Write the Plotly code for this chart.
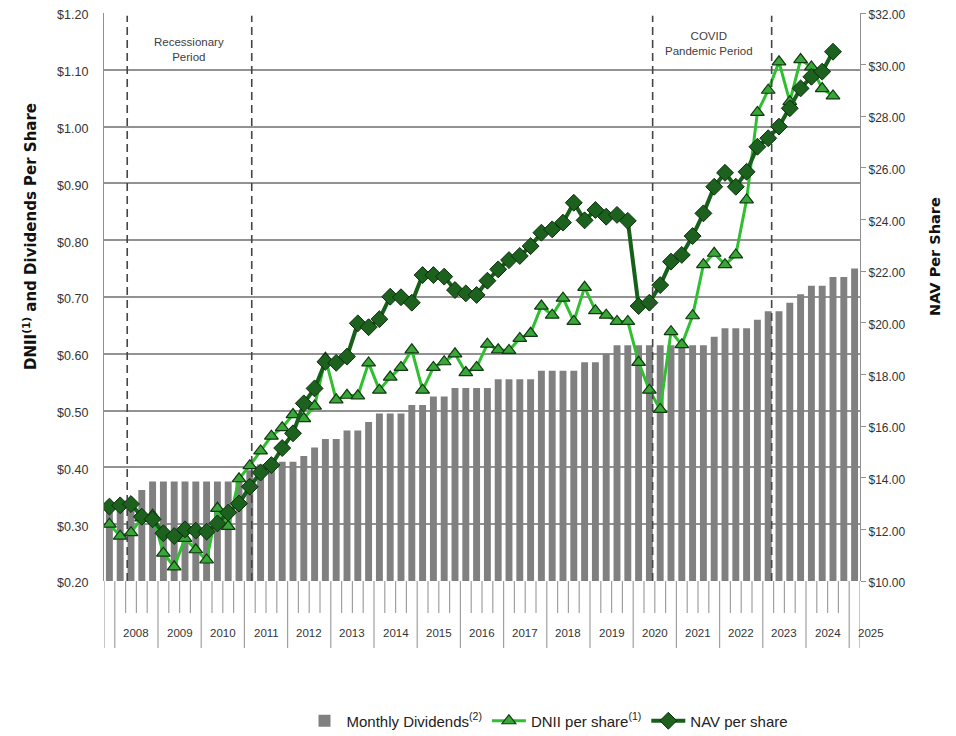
import plotly.graph_objects as go

# ---------------- data ----------------
quarters = ["Q4 2007"] + [f"Q{q} {y}" for y in range(2008, 2025) for q in (1, 2, 3, 4)] + ["Q1 2025"]

dividends = [0.33, 0.34, 0.34, 0.36,
             0.375, 0.375, 0.375, 0.375,
             0.375, 0.375, 0.375, 0.375,
             0.385, 0.395, 0.405, 0.405,
             0.41, 0.41, 0.42, 0.435,
             0.45, 0.45, 0.465, 0.465,
             0.48, 0.495, 0.495, 0.495,
             0.51, 0.51, 0.525, 0.525,
             0.54, 0.54, 0.54, 0.54,
             0.555, 0.555, 0.555, 0.555,
             0.57, 0.57, 0.57, 0.57,
             0.585, 0.585, 0.60, 0.615,
             0.615, 0.615, 0.615, 0.615,
             0.615, 0.615, 0.615, 0.615,
             0.63, 0.645, 0.645, 0.645,
             0.66, 0.675, 0.675, 0.69,
             0.705, 0.72, 0.72, 0.735,
             0.735, 0.75]

dnii = [0.300, 0.279, 0.285, 0.311,
        0.316, 0.249, 0.225, 0.275,
        0.255, 0.237, 0.328, 0.296,
        0.380, 0.403, 0.429, 0.455,
        0.470, 0.493, 0.486, 0.508,
        0.592, 0.519, 0.527, 0.526,
        0.584, 0.536, 0.559, 0.576,
        0.607, 0.536, 0.576, 0.586,
        0.600, 0.567, 0.576, 0.617,
        0.607, 0.606, 0.627, 0.636,
        0.684, 0.668, 0.698, 0.657,
        0.717, 0.676, 0.668, 0.657,
        0.657, 0.585, 0.536, 0.502,
        0.639, 0.616, 0.667, 0.757,
        0.777, 0.757, 0.774, 0.871,
        1.025, 1.064, 1.114, 1.044,
        1.118, 1.105, 1.067, 1.054]

nav = [12.88, 12.93, 12.98, 12.49,
       12.39, 11.85, 11.74, 12.00,
       11.95, 11.91, 12.23, 12.65,
       13.00, 13.65, 14.20, 14.49,
       15.15, 15.72, 16.88, 17.46,
       18.49, 18.45, 18.69, 19.98,
       19.83, 20.14, 21.01, 20.99,
       20.78, 21.85, 21.85, 21.79,
       21.27, 21.14, 21.08, 21.63,
       22.07, 22.43, 22.59, 22.97,
       23.49, 23.62, 23.88, 24.65,
       23.97, 24.37, 24.11, 24.18,
       23.95, 20.65, 20.78, 21.46,
       22.37, 22.63, 23.36, 24.24,
       25.27, 25.81, 25.27, 25.85,
       26.82, 27.15, 27.60, 28.31,
       29.08, 29.53, 29.73, 30.50]

year_labels = [str(y) for y in range(2008, 2026)]
period_labels = ["Recessionary<br>Period", "COVID<br>Pandemic Period"]
period_bounds = [(1.65, 13.18), (50.3, 61.32)]

FONT = "Liberation Sans, Arial, sans-serif"
GRID = "#929292"

# page (screen) geometry: the html body adds an 8px margin
OFF = 8
W, H = 956 - 2 * OFF, 736 - OFF
PLOT_L, PLOT_R, PLOT_T, PLOT_B = 104, 860, 13, 581      # in page pixels
L, T = PLOT_L - OFF, PLOT_T - OFF
R, B = W - (PLOT_R - OFF), H - (PLOT_B - OFF)
PW, PH = W - L - R, H - T - B


def px_x(v):
    return (v - OFF - L) / PW


def px_y(v):
    return (H - B - (v - OFF)) / PH


fig = go.Figure()
fig.add_trace(go.Bar(
    x=quarters, y=dividends, name="Monthly Dividends<sup>(2)</sup>",
    marker=dict(color="#808080", line=dict(width=0)),
))
fig.add_trace(go.Scatter(
    x=quarters[:len(dnii)], y=dnii, name="DNII per share<sup>(1)</sup>", mode="lines+markers",
    line=dict(color="#2fbf2f", width=3),
    marker=dict(symbol="triangle-up", size=12, color="#3aa63a", line=dict(color="#0f3a0f", width=1.2)),
))
fig.add_trace(go.Scatter(
    x=quarters[:len(nav)], y=nav, name="NAV per share", mode="lines+markers", yaxis="y2",
    line=dict(color="#17601a", width=4),
    marker=dict(symbol="diamond", size=13, color="#1c621e", line=dict(color="#0b2f0b", width=1)),
))

shapes = []
for a, b in period_bounds:
    for xv in (a, b):
        shapes.append(dict(type="line", xref="x", yref="paper", x0=xv, x1=xv, y0=0, y1=0.995,
                           line=dict(color="#454545", width=1.6, dash="8px,5px")))
n = len(quarters)
year_bounds = {-0.5, n - 0.5} | {0.5 + 4 * k for k in range(len(year_labels))}
for k in range(n + 1):
    b = k - 0.5
    long = b in year_bounds
    shapes.append(dict(type="line", xref="x", yref="paper", x0=b, x1=b, y0=0,
                       y1=px_y(648) if long else px_y(613),
                       line=dict(color="#a0a0a0", width=1.2)))

annotations = []
for j, yl in enumerate(year_labels):
    xc = 1 + 4 * j + 1.5
    if xc < n - 0.5:
        annotations.append(dict(x=xc, y=px_y(633), xref="x", yref="paper", text=yl,
                                showarrow=False, font=dict(family=FONT, size=11.5, color="#333333"),
                                xanchor="center", yanchor="middle"))
    else:
        annotations.append(dict(x=px_x(PLOT_L + (xc + 0.5) * (PLOT_R - PLOT_L) / n), y=px_y(633),
                                xref="paper", yref="paper",
                                text=yl, showarrow=False, font=dict(family=FONT, size=11.5, color="#333333"),
                                xanchor="center", yanchor="middle"))
for (a, b), txt, yy in zip(period_bounds, period_labels, [px_y(49), px_y(43)]):
    annotations.append(dict(x=(a + b) / 2 + (0 if a < 10 else -0.3), y=yy, xref="x", yref="paper", text=txt,
                            showarrow=False, font=dict(family=FONT, size=11.5, color="#404040"),
                            xanchor="center", yanchor="middle"))
annotations.append(dict(x=px_x(18), y=px_y(237), xref="paper", yref="paper", textangle=-90,
                        text="<b>DNII<sup>(1)</sup> and Dividends Per Share</b>", showarrow=False,
                        font=dict(family="DejaVu Sans", size=15, color="#111111")))
annotations.append(dict(x=px_x(945), y=px_y(256), xref="paper", yref="paper", textangle=-90,
                        text="<b>NAV Per Share</b>", showarrow=False,
                        font=dict(family="DejaVu Sans", size=14.5, color="#111111")))

fig.update_layout(
    width=W, height=H,
    margin=dict(l=L, r=R, t=T, b=B, autoexpand=False),
    paper_bgcolor="white", plot_bgcolor="white",
    bargap=0.36,
    font=dict(family=FONT, size=12, color="#333333"),
    xaxis=dict(type="category", range=[-0.5, n - 0.5], showticklabels=False, showgrid=False,
               zeroline=False, showline=False, ticks="", automargin=False),
    yaxis=dict(range=[0.2, 1.2], tick0=0.2, dtick=0.1, tickformat="$.2f", showgrid=True,
               gridcolor=GRID, gridwidth=1.8, zeroline=False, showline=True, linecolor=GRID,
               linewidth=1.2, ticks="outside", ticklen=12, tickcolor="rgba(0,0,0,0)", automargin=False,
               ticklabeloverflow="allow", ticklabelshift=2,
               tickfont=dict(family=FONT, size=12.5, color="#333333")),
    yaxis2=dict(range=[10, 32], tick0=10, dtick=2, tickformat="$.2f", overlaying="y", side="right",
                showgrid=False, zeroline=False, showline=True, linecolor=GRID, linewidth=1.2,
                ticks="outside", ticklen=5, tickcolor=GRID, automargin=False,
                ticklabeloverflow="allow", ticklabelshift=2,
                tickfont=dict(family=FONT, size=12, color="#333333")),
    legend=dict(orientation="h", x=px_x(548), xanchor="center", y=px_y(721), yanchor="middle",
                font=dict(family=FONT, size=15, color="#222222"), itemwidth=34,
                tracegroupgap=0, bgcolor="rgba(0,0,0,0)"),
    shapes=shapes, annotations=annotations,
    showlegend=True,
)

fig.write_html("out.html")
